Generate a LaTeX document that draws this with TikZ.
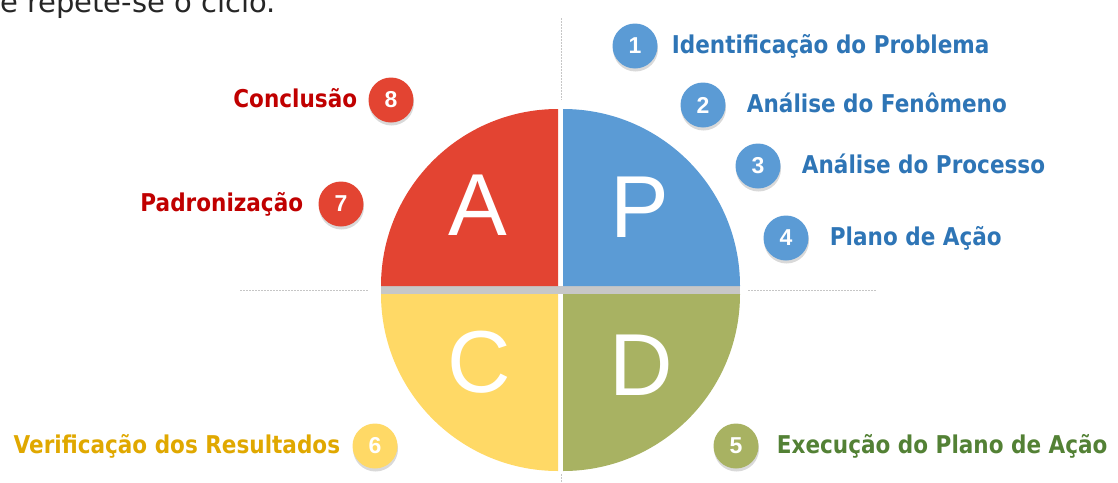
\documentclass[tikz,border=0pt]{standalone}
\usepackage{fontspec}
\usepackage{tikz}
\usetikzlibrary{positioning, shadows}
\newfontfamily\lblfont[FakeStretch=0.88]{DejaVu Sans Bold}
\newfontfamily\arialfont{Liberation Sans}
\newfontfamily\numfont{Liberation Sans Bold}
\newfontfamily\introfont{DejaVu Sans}
\definecolor{pdcared}{HTML}{E34432}
\definecolor{pdcablue}{HTML}{5B9BD5}
\definecolor{pdcayellow}{HTML}{FFD966}
\definecolor{pdcagreen}{HTML}{A8B262}
\definecolor{txtred}{HTML}{C00000}
\definecolor{txtblue}{HTML}{2E75B6}
\definecolor{txtyellow}{HTML}{E0A800}
\definecolor{txtgreen}{HTML}{538135}

\begin{document}
\begin{tikzpicture}[x=1pt, y=-1pt,
  numdot/.style={circle, minimum size=45pt, inner sep=0pt, text=white,
    font=\numfont\fontsize{23}{25}\selectfont,
    drop shadow={shadow xshift=0.5pt, shadow yshift=-3pt, opacity=0.3}},
  steplabel/.style={inner sep=0pt, text height=18pt, text depth=4pt,
    font=\lblfont\fontsize{24.5}{26}\selectfont},
  bigletter/.style={text=white, inner sep=0pt,
    font=\arialfont\fontsize{88}{90}\selectfont},
  guide/.style={gray!45, line width=0.8pt, dash pattern=on 1.5pt off 1.5pt}]
  \useasboundingbox (0,0) rectangle (1118,482);
  \clip (0,0) rectangle (1118,482);
  % Intro line (cut at the top)
  \node[anchor=base west, inner sep=0pt, text=black!85,
    font=\introfont\fontsize{29}{31}\selectfont] (intro) at (0,12) {e repete-se o ciclo.};
  % Guide lines
  \draw[guide] (561,18) -- (561,100);
  \draw[guide] (240,290) -- (369,290);
  \draw[guide] (748,290) -- (877,290);
  \draw[guide] (561,474) -- (561,482);
  % Quadrants
  \fill[black!22] (381,286) rectangle (740,294);
  \fill[pdcared] (558,286) -- ++(-177,0) arc[start angle=180, end angle=90, radius=177pt] -- cycle;
  \fill[pdcablue] (563,286) -- ++(177,0) arc[start angle=0, end angle=90, radius=177pt] -- cycle;
  \fill[pdcayellow] (558,294) -- ++(-177,0) arc[start angle=180, end angle=270, radius=177pt] -- cycle;
  \fill[pdcagreen] (563,294) -- ++(177,0) arc[start angle=0, end angle=-90, radius=177pt] -- cycle;
  \node[bigletter] (lA) at (478,205) {A};
  \node[bigletter] (lP) at (640,207) {P};
  \node[bigletter] (lC) at (479,362) {C};
  \node[bigletter] (lD) at (641,365) {D};
  % Steps
  \node[numdot, fill=pdcablue] (n1) at (635,46) {1};
  \node[numdot, fill=pdcablue] (n2) at (703,105) {2};
  \node[numdot, fill=pdcablue] (n3) at (758,166) {3};
  \node[numdot, fill=pdcablue] (n4) at (786,238) {4};
  \node[numdot, fill=pdcagreen] (n5) at (736,446) {5};
  \node[numdot, fill=pdcayellow] (n6) at (375,446) {6};
  \node[numdot, fill=pdcared] (n7) at (341,204) {7};
  \node[numdot, fill=pdcared] (n8) at (391,100) {8};
  \node[steplabel, text=txtblue, right=14pt of n1] (t1) {Identificação do Problema};
  \node[steplabel, text=txtblue, right=21pt of n2] (t2) {Análise do Fenômeno};
  \node[steplabel, text=txtblue, right=21pt of n3] (t3) {Análise do Processo};
  \node[steplabel, text=txtblue, right=21pt of n4] (t4) {Plano de Ação};
  \node[steplabel, text=txtgreen, right=18pt of n5] (t5) {Execução do Plano de Ação};
  \node[steplabel, text=txtyellow, left=12pt of n6] (t6) {Verificação dos Resultados};
  \node[steplabel, text=txtred, left=15pt of n7] (t7) {Padronização};
  \node[steplabel, text=txtred, left=11pt of n8] (t8) {Conclusão};
\end{tikzpicture}
\end{document}
